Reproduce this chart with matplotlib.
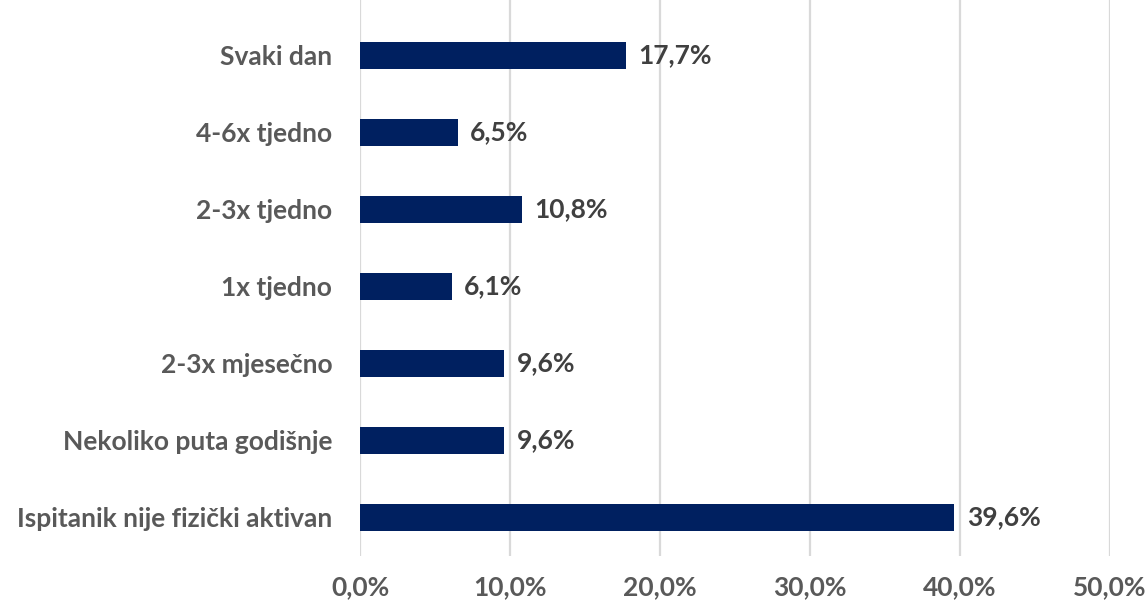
import numpy as np
import matplotlib.pyplot as plt

categories = ["Svaki dan", "4-6x tjedno", "2-3x tjedno", "1x tjedno",
              "2-3x mjesečno", "Nekoliko puta godišnje", "Ispitanik nije fizički aktivan"]
values = [17.7, 6.5, 10.8, 6.1, 9.6, 9.6, 39.6]
xticks = [0, 10, 20, 30, 40, 50]

plt.rcParams['font.family'] = ['Lato', 'DejaVu Sans']
plt.rcParams['font.weight'] = 'bold'

fig = plt.figure(figsize=(11.45, 6.01), dpi=100)
ax = fig.add_axes([360 / 1145, 1 - 556 / 601, 750 / 1145, 556 / 601])

y = np.arange(len(categories))
ax.barh(y, values, height=0.35, color="#002060", zorder=3)

# value labels at bar ends
for yi, v in zip(y, values):
    ax.text(v + 0.85, yi, f"{v:.1f}%".replace(".", ","), va="center", ha="left",
            fontsize=19, fontweight="bold", color="#404040")

ax.set_xlim(0, 50)
ax.set_ylim(6.5, -0.72)
ax.set_yticks(y)
ax.set_yticklabels(categories, fontsize=19, fontweight="bold", color="#595959")
ax.set_xticks(xticks)
ax.set_xticklabels([f"{t:.1f}%".replace(".", ",") for t in xticks],
                   fontsize=19, fontweight="bold", color="#595959")
ax.tick_params(axis="both", length=0)
ax.tick_params(axis="y", pad=20)
ax.tick_params(axis="x", pad=14)

ax.grid(axis="x", color="#d9d9d9", linewidth=1.6, zorder=0)
for s in ax.spines.values():
    s.set_visible(False)

fig.savefig("out.png", dpi=100)
